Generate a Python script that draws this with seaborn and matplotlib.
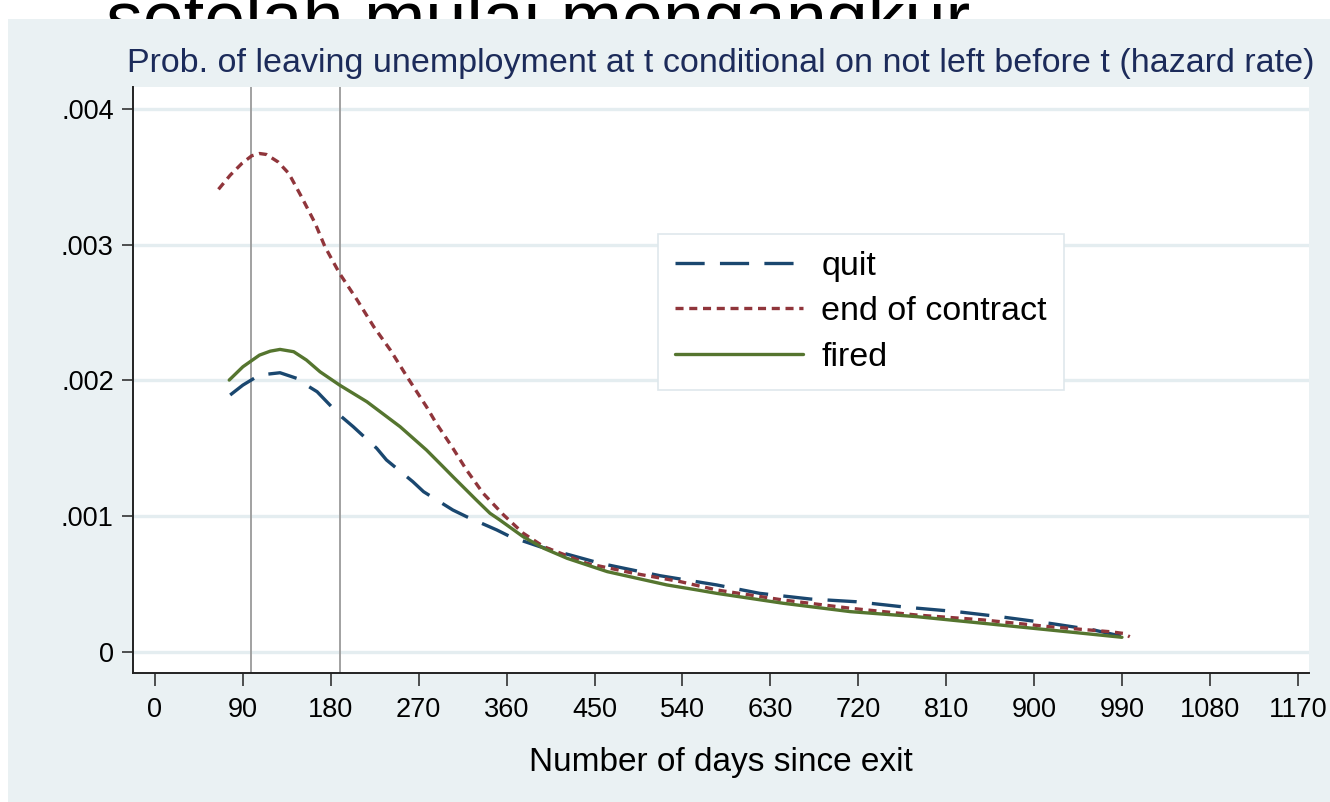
import numpy as np
import pandas as pd
import matplotlib
matplotlib.use("Agg")
import matplotlib.pyplot as plt
from matplotlib.patches import Rectangle
from matplotlib.transforms import Bbox
import seaborn as sns

# hazard rate curves (days since exit, probability)
quit_days = [77, 90, 107, 128, 145, 155, 166, 189, 203, 227, 237, 264, 275, 305, 319,
             350, 364, 394, 456, 517, 575, 619, 671, 718, 770, 821, 865, 916, 961, 998]
quit_rate = [0.001892, 0.001965, 0.002039, 0.002056, 0.002015, 0.001965, 0.001916,
             0.001744, 0.001658, 0.001499, 0.001413, 0.001253, 0.001179, 0.001044,
             0.000995, 0.000897, 0.000847, 0.000774, 0.000651, 0.000560, 0.000492,
             0.000430, 0.000388, 0.000368, 0.000327, 0.000295, 0.000258, 0.000209,
             0.000160, 0.000100]

contract_days = [65, 77, 89, 99, 107, 114, 126, 137, 150, 164, 174, 189, 207, 224, 241, 258,
                 278, 288, 304, 319, 336, 357, 377, 398, 442, 490, 538, 575, 643, 712,
                 780, 848, 916, 978, 991, 998]
contract_rate = [0.003408, 0.003512, 0.003599, 0.003655, 0.003672, 0.003665, 0.003610,
                 0.003525, 0.003353, 0.003157, 0.002985, 0.002788, 0.002592, 0.002395,
                 0.002223, 0.002027, 0.001805, 0.001683, 0.001511, 0.001339, 0.001167,
                 0.001007, 0.000873, 0.000774, 0.000651, 0.000578, 0.000516, 0.000455,
                 0.000381, 0.000320, 0.000270, 0.000234, 0.000184, 0.000147, 0.000135,
                 0.000110]

fired_days = [76, 90, 107, 118, 128, 142, 155, 169, 189, 217, 251, 278, 295, 305, 329, 343,
              353, 377, 398, 422, 463, 524, 555, 575, 643, 712, 780, 848, 916, 990]
fired_rate = [0.002002, 0.002100, 0.002186, 0.002215, 0.002228, 0.002211, 0.002150,
              0.002063, 0.001965, 0.001842, 0.001658, 0.001486, 0.001363, 0.001290,
              0.001118, 0.001020, 0.000971, 0.000847, 0.000762, 0.000688, 0.000590,
              0.000492, 0.000455, 0.000430, 0.000357, 0.000295, 0.000258, 0.000209,
              0.000160, 0.000106]

series_names = ["quit", "end of contract", "fired"]
x_ticks = [0, 90, 180, 270, 360, 450, 540, 630, 720, 810, 900, 990, 1080, 1170]
y_ticks = [0, 0.001, 0.002, 0.003, 0.004]
y_tick_labels = ["0", ".001", ".002", ".003", ".004"]
cutoff_lines = [98, 189]

df = pd.concat([
    pd.DataFrame({"days": quit_days, "rate": quit_rate, "group": "quit"}),
    pd.DataFrame({"days": contract_days, "rate": contract_rate, "group": "end of contract"}),
    pd.DataFrame({"days": fired_days, "rate": fired_rate, "group": "fired"}),
])

sns.set_style("white")
plt.rcParams["font.family"] = ["Liberation Sans", "DejaVu Sans"]
plt.rcParams["lines.scale_dashes"] = False
plt.rcParams["text.color"] = "black"
plt.rcParams["axes.labelcolor"] = "black"

bg = "#eaf1f3"
W, H = 1330, 802
fig = plt.figure(figsize=(13.3, 8.02), dpi=100, facecolor="white")

# caption text from the page above, only its top shows above the graph region
cap = fig.text(106 / W, 1 - 43 / H, "setelah mulai mengangkur", fontsize=53,
               color="black", ha="left", va="baseline", zorder=-3)
cap.set_clip_box(Bbox.from_extents(0, H - 19, W, H))
cap.set_clip_on(True)
fig.patches.append(Rectangle((8 / W, 0), 1 - 8 / W, (H - 19) / H,
                             transform=fig.transFigure, facecolor=bg,
                             edgecolor="none", zorder=-2))

ax = fig.add_axes([133.3 / W, 1 - 672.7 / H, (1309 - 133.3) / W,
                   (672.7 - 87.3) / H])
ax.set_facecolor("white")

palette = {"quit": "#1a476f", "end of contract": "#90353b", "fired": "#55752f"}
dashes = {"quit": (21, 11), "end of contract": (5.8, 4.1), "fired": ""}

sns.lineplot(data=df, x="days", y="rate", hue="group", style="group",
             hue_order=series_names, style_order=series_names,
             palette=palette, dashes=dashes, estimator=None, sort=False,
             linewidth=2.4, ax=ax, zorder=3)

for d in cutoff_lines:
    ax.axvline(d, color="#9a9a9a", linewidth=1.3, zorder=2)

ax.set_xlim(-22.2, 1181.5)
ax.set_ylim(-0.000155, 0.00416)
ax.set_xticks(x_ticks)
ax.set_yticks(y_ticks)
ax.set_yticklabels(y_tick_labels)
ax.yaxis.grid(True, color="#e4edf0", linewidth=2.4, zorder=0)
ax.xaxis.grid(False)
ax.set_axisbelow(True)

for side in ["top", "right"]:
    ax.spines[side].set_visible(False)
for side in ["left", "bottom"]:
    ax.spines[side].set_color("#222222")
    ax.spines[side].set_linewidth(1.4)

ax.tick_params(axis="x", direction="out", length=9.5, width=1.1, pad=8,
               labelsize=19.5, colors="#222222", labelcolor="black", bottom=True)
ax.tick_params(axis="y", direction="out", length=8, width=1.1, pad=6,
               labelsize=19.5, colors="#222222", labelcolor="black", left=True)

ax.set_xlabel("Number of days since exit", fontsize=24, labelpad=17)
ax.set_ylabel("")
ax.set_title("Prob. of leaving unemployment at t conditional on not left before t (hazard rate)",
             fontsize=24.5, color="#1c2b5a", pad=11)

leg = ax.legend(loc="upper left", bbox_to_anchor=(0.4463, 0.7494), fontsize=24.5,
                handlelength=3.75, handletextpad=0.55, labelspacing=0.42,
                borderpad=0.5, borderaxespad=0, fancybox=False, framealpha=1,
                edgecolor="#dfe8ec", title=None)
leg.get_frame().set_linewidth(1.2)
for line in leg.get_lines():
    line.set_linewidth(2.4)
for t in leg.get_texts():
    t.set_color("black")

fig.savefig("out.png", dpi=100, facecolor="white")
